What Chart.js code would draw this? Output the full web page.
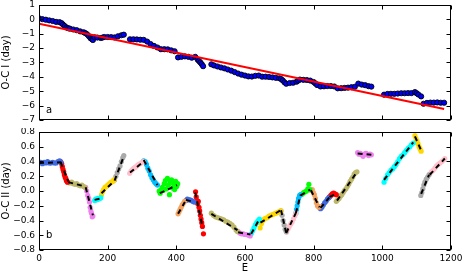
<!DOCTYPE html>
<html>
<head>
<meta charset="utf-8">
<script src="https://cdn.jsdelivr.net/npm/chart.js@4.4.1/dist/chart.umd.min.js"></script>
<style>
  html, body { margin:0; padding:0; background:#fff; }
  #wrap { position:relative; width:462px; height:273px; }
  canvas { position:absolute; left:0; }
  #top { top:0; }
  #bot { top:128px; }
</style>
</head>
<body>
<div id="wrap">
  <canvas id="top" width="462" height="126"></canvas>
  <canvas id="bot" width="462" height="145"></canvas>
</div>
<script>
// ---- data ----
const xTicks = [0,200,400,600,800,1000,1200];
const topYTicks = [1,0,-1,-2,-3,-4,-5,-6,-7];
const bottomYTicks = [0.8,0.6,0.4,0.2,0,-0.2,-0.4,-0.6,-0.8];

// linear ephemeris (red line in panel a)
const trendLine = [[0,-0.31],[1180,-6.23]];

// O-C I (panel a)
const ocI = [
  [0,0.07],[10,0.01],[20,-0.03],[30,-0.08],[40,-0.12],[50,-0.18],[60,-0.20],[66,-0.27],
  [70,-0.37],[75,-0.47],[80,-0.57],[85,-0.62],[90,-0.65],[100,-0.71],[110,-0.76],[120,-0.84],
  [130,-0.90],[135,-0.96],[140,-1.04],[145,-1.17],[150,-1.31],[154,-1.38],[157,-1.44],
  [162,-1.25],[170,-1.27],[180,-1.30],[185,-1.27],[190,-1.23],[200,-1.23],[210,-1.24],
  [220,-1.26],[230,-1.18],[240,-1.11],[247,-1.07],
  [265,-1.39],[275,-1.39],[285,-1.40],[295,-1.42],[305,-1.43],[315,-1.55],[325,-1.72],
  [335,-1.85],[345,-1.96],[355,-2.08],[365,-2.08],[375,-2.09],[385,-2.16],[395,-2.22],
  [405,-2.65],[415,-2.61],[425,-2.58],[435,-2.61],[445,-2.67],[455,-2.61],[462,-2.80],
  [466,-2.90],[470,-3.00],[474,-3.12],[478,-3.26],
  [502,-3.13],[510,-3.21],[520,-3.28],[530,-3.35],[540,-3.41],[550,-3.49],[560,-3.57],
  [570,-3.67],[580,-3.77],[590,-3.85],[600,-3.91],[610,-3.97],[620,-3.98],[630,-3.93],
  [640,-3.91],[650,-3.99],[660,-3.99],[670,-4.01],[680,-4.04],[690,-4.07],[700,-4.10],
  [705,-4.15],[710,-4.25],[715,-4.38],[720,-4.48],[730,-4.43],[740,-4.41],[750,-4.34],
  [755,-4.26],[760,-4.19],[770,-4.21],[780,-4.22],[790,-4.26],[800,-4.36],[805,-4.46],
  [810,-4.57],[820,-4.67],[830,-4.66],[840,-4.64],[850,-4.64],[860,-4.67],[870,-4.80],
  [880,-4.79],[890,-4.77],[900,-4.75],[910,-4.72],[920,-4.69],
  [930,-4.47],[940,-4.54],[950,-4.58],[960,-4.65],[968,-4.68],
  [1005,-5.24],[1015,-5.19],[1025,-5.18],[1035,-5.18],[1045,-5.16],[1055,-5.14],
  [1065,-5.14],[1075,-5.13],[1085,-5.13],[1095,-5.06],[1100,-5.14],[1105,-5.23],[1113,-5.36],
  [1120,-5.87],[1130,-5.81],[1140,-5.79],[1150,-5.79],[1160,-5.78],[1170,-5.80],[1180,-5.80]
];

// O-C II (panel b), one list per coloured segment
const ocIISegments = [
  [[0,0.38],[5,0.39],[10,0.37],[15,0.39],[20,0.38],[25,0.40],[30,0.38],[35,0.38],[40,0.39],[45,0.38],[50,0.38],[55,0.40],[60,0.41],[64,0.39]],
  [[63,0.40],[66,0.37],[68,0.33],[70,0.29],[72,0.26],[74,0.22],[76,0.19],[78,0.17],[80,0.14],[83,0.12]],
  [[85,0.12],[90,0.11],[95,0.12],[100,0.10],[105,0.09],[110,0.10],[115,0.08],[120,0.07],[125,0.08],[130,0.06],[134,0.05]],
  [[136,0.05],[139,0.00],[142,-0.06],[145,-0.10],[147,-0.15],[149,-0.22],[151,-0.27],[153,-0.30],[155,-0.35],[157,-0.34]],
  [[162,-0.13],[165,-0.11],[168,-0.12],[171,-0.10],[174,-0.11],[177,-0.10],[180,-0.09]],
  [[182,-0.05],[185,-0.01],[188,0.02],[192,0.05],[196,0.06],[200,0.08],[205,0.10],[210,0.12],[215,0.13],[218,0.15]],
  [[220,0.15],[224,0.20],[228,0.25],[232,0.30],[236,0.34],[240,0.40],[244,0.45],[247,0.48]],
  [[264,0.24],[268,0.27],[272,0.29],[276,0.31],[280,0.32],[285,0.34],[290,0.36],[295,0.37],[300,0.39],[304,0.40]],
  [[305,0.41],[309,0.40],[313,0.36],[317,0.31],[321,0.27],[325,0.22],[329,0.18],[333,0.15],[337,0.12],[341,0.10],[345,0.08]],
  [[350,0.00],[353,-0.03],[356,0.02],[359,0.05],[362,0.01],[365,0.10],[368,0.14],[371,0.03],[374,0.17],[377,0.08],[380,-0.05],[383,0.12],[386,0.15],[389,0.04],[392,0.10],[395,0.02],[398,0.13],[401,0.06],[404,0.10]],
  [[405,-0.31],[408,-0.28],[411,-0.25],[414,-0.22],[417,-0.19],[420,-0.17],[424,-0.14]],
  [[428,-0.13],[432,-0.11],[436,-0.12],[440,-0.12],[444,-0.13],[448,-0.14],[452,-0.15]],
  [[456,-0.01],[458,-0.08],[460,-0.13],[462,-0.17],[464,-0.14],[466,-0.22],[468,-0.27],[470,-0.33],[472,-0.38],[474,-0.43],[476,-0.48],[479,-0.58]],
  [[502,-0.30],[508,-0.33],[514,-0.35],[520,-0.36],[526,-0.37],[532,-0.38],[538,-0.39],[544,-0.41],[550,-0.42],[556,-0.44],[562,-0.46],[568,-0.49],[574,-0.53],[578,-0.55]],
  [[580,-0.55],[585,-0.57],[590,-0.58],[595,-0.58],[600,-0.59],[605,-0.59],[610,-0.60],[615,-0.61]],
  [[618,-0.58],[622,-0.54],[626,-0.50],[630,-0.46],[634,-0.43],[638,-0.40],[642,-0.38]],
  [[644,-0.50],[648,-0.44],[652,-0.40],[656,-0.38],[660,-0.37],[665,-0.36],[670,-0.34],[675,-0.33],[680,-0.32],[685,-0.31],[690,-0.30],[695,-0.29],[700,-0.28],[704,-0.27]],
  [[705,-0.27],[708,-0.33],[711,-0.40],[714,-0.46],[717,-0.52],[720,-0.55]],
  [[721,-0.56],[725,-0.52],[729,-0.48],[733,-0.45],[737,-0.42],[741,-0.38],[745,-0.34],[748,-0.30]],
  [[748,-0.30],[750,-0.25],[752,-0.20],[754,-0.15],[756,-0.10],[759,-0.06],[762,-0.05]],
  [[763,-0.05],[767,-0.04],[771,-0.02],[775,-0.01],[779,0.00],[783,0.03],[786,0.09],[789,0.02]],
  [[792,0.01],[796,0.02],[799,-0.02],[802,-0.05],[805,-0.10],[808,-0.16],[811,-0.20],[815,-0.22],[818,-0.21]],
  [[820,-0.24],[824,-0.22],[828,-0.19],[832,-0.16],[836,-0.14],[840,-0.11],[844,-0.09]],
  [[846,-0.08],[850,-0.06],[854,-0.04],[858,-0.03],[862,-0.04],[866,-0.05]],
  [[866,-0.14],[870,-0.12],[874,-0.10],[878,-0.07],[882,-0.05],[886,-0.02],[890,0.01],[894,0.03],[898,0.06],[902,0.09],[906,0.13],[910,0.16],[914,0.19],[918,0.23],[922,0.25],[926,0.26]],
  [[928,0.52],[932,0.50],[936,0.51],[940,0.49],[944,0.47],[948,0.50],[952,0.51],[956,0.50],[960,0.48],[964,0.50],[968,0.49]],
  [[1005,0.12],[1010,0.17],[1015,0.22],[1020,0.25],[1025,0.28],[1030,0.30],[1035,0.33],[1040,0.36],[1045,0.40],[1050,0.44],[1055,0.47],[1060,0.49],[1065,0.52],[1070,0.55],[1075,0.58],[1080,0.60],[1085,0.63],[1090,0.65]],
  [[1095,0.75],[1098,0.71],[1101,0.68],[1104,0.64],[1107,0.60],[1110,0.57],[1113,0.54]],
  [[1112,-0.06],[1115,-0.02],[1118,0.03],[1121,0.08],[1124,0.12],[1128,0.16],[1132,0.19],[1136,0.22]],
  [[1138,0.23],[1143,0.26],[1148,0.28],[1153,0.31],[1158,0.34],[1163,0.36],[1168,0.38],[1173,0.40],[1178,0.42],[1182,0.44]]
];

// linear fits through each segment: [E1, v1, E2, v2]
const ocIIFits = [
  [0,0.38,65,0.39],[63,0.39,85,0.13],[85,0.12,135,0.06],[136,0.05,157,-0.33],
  [162,-0.12,180,-0.10],[182,-0.03,218,0.13],[220,0.14,247,0.47],[265,0.25,305,0.40],
  [305,0.42,345,0.08],[352,-0.03,402,0.08],[405,-0.31,425,-0.15],[428,-0.12,452,-0.15],
  [455,-0.02,477,-0.50],[502,-0.31,578,-0.53],[580,-0.56,616,-0.59],[618,-0.58,642,-0.38],
  [645,-0.43,704,-0.26],[705,-0.26,720,-0.57],[720,-0.57,748,-0.30],[748,-0.30,762,-0.05],
  [762,-0.06,790,0.02],[792,0.01,817,-0.22],[820,-0.23,845,-0.09],[846,-0.08,866,-0.04],
  [868,-0.13,925,0.25],[928,0.51,968,0.49],[1005,0.15,1090,0.66],[1095,0.74,1113,0.55],
  [1113,-0.04,1136,0.22],[1138,0.22,1182,0.44]
];

// colour cycle of the segments
const segColors = ['#4169e1','#ff0000','#bdb76b','#ee82ee','#00ffff','#ffd700',
                   '#a9a9a9','#ffc0cb','#00bfff','#00ff00','#f4a460'];

Chart.defaults.font.family = "'DejaVu Sans', sans-serif";
Chart.defaults.font.size = 9;
Chart.defaults.color = '#000';

const minus = s => String(s).replace('-', '\u2212');
const toXY = arr => arr.map(p => ({x:p[0], y:p[1]}));

// frame + inward ticks on all four sides, plus the panel letter
const framePlugin = {
  id: 'frame',
  afterDraw(chart, args, opts){
    const {ctx, chartArea:a} = chart;
    const xs = chart.scales.x, ys = chart.scales.y;
    ctx.save();
    ctx.strokeStyle = '#000';
    ctx.lineWidth = 1;
    const L = Math.round(a.left)+0.5, R = Math.round(a.right)-0.5;
    const T = Math.round(a.top)+0.5, B = Math.round(a.bottom)-0.5;
    ctx.beginPath();
    xs.ticks.forEach(t=>{
      const p = Math.round(xs.getPixelForValue(t.value))+0.5;
      ctx.moveTo(p,T); ctx.lineTo(p,T+4);
      ctx.moveTo(p,B); ctx.lineTo(p,B-4);
    });
    ys.ticks.forEach(t=>{
      const p = Math.round(ys.getPixelForValue(t.value))+0.5;
      ctx.moveTo(L,p); ctx.lineTo(L+4,p);
      ctx.moveTo(R,p); ctx.lineTo(R-4,p);
    });
    ctx.stroke();
    ctx.strokeRect(L, T, R-L, B-T);
    ctx.fillStyle = '#000';
    ctx.font = "10px 'DejaVu Sans', sans-serif";
    ctx.textBaseline = 'alphabetic';
    ctx.fillText(opts.letter, a.left+7, a.bottom-opts.dy);
    ctx.restore();
  }
};

function yScale(ticks, title, fmt){
  return {
    type:'linear', min: ticks[ticks.length-1], max: ticks[0],
    afterBuildTicks: s => { s.ticks = ticks.map(v=>({value:v})); },
    afterFit: s => { s.width = 39; s.paddingTop = 0; s.paddingBottom = 0; },
    grid:{ display:false, drawTicks:false },
    border:{ display:false },
    ticks:{ padding:4, callback: fmt },
    title:{ display:true, text:title, font:{size:10}, padding:{top:0,bottom:2} }
  };
}

function xScale(showLabels, h){
  return {
    type:'linear', min:0, max:1200,
    afterBuildTicks: s => { s.ticks = xTicks.map(v=>({value:v})); },
    afterFit: s => { s.height = h; s.paddingLeft = 0; s.paddingRight = 0; },
    grid:{ display:false, drawTicks:false },
    border:{ display:false },
    ticks:{ display:showLabels, padding:3, maxRotation:0, callback: v => String(v) },
    title:{ display:showLabels, text:'E', font:{size:10}, padding:{top:0,bottom:-1} }
  };
}

const common = {
  responsive:false, animation:false, devicePixelRatio:1,
  layout:{ padding:{ left:0, right:11, top:4, bottom:0 } },
  plugins:{ legend:{display:false}, tooltip:{enabled:false} }
};

// panel a
new Chart(document.getElementById('top'), {
  type:'scatter',
  data:{ datasets:[
    { data: toXY(trendLine), showLine:true, borderColor:'#ff0000', borderWidth:2,
      pointRadius:0, order:0 },
    { data: toXY(ocI), backgroundColor:'#0000ff', borderColor:'#000', borderWidth:0.9,
      pointRadius:2.6, order:1 }
  ]},
  options:{ ...common,
    plugins:{ ...common.plugins, frame:{ letter:'a', dy:7 } },
    scales:{
      x: xScale(false, 6),
      y: yScale(topYTicks, 'O-C I (day)', v => minus(v))
    }
  },
  plugins:[framePlugin]
});

// panel b
const botSets = [];
ocIISegments.forEach((seg,i)=>{
  botSets.push({ data: toXY(seg), backgroundColor: segColors[i % segColors.length],
    borderWidth:0, pointRadius:2.6, order:2 });
});
ocIIFits.forEach(f=>{
  botSets.push({ data:[{x:f[0],y:f[1]},{x:f[2],y:f[3]}], showLine:true,
    borderColor:'#000', borderWidth:2, borderDash:[5,4], pointRadius:0, order:0 });
});

new Chart(document.getElementById('bot'), {
  type:'scatter',
  data:{ datasets: botSets },
  options:{ ...common,
    plugins:{ ...common.plugins, frame:{ letter:'b', dy:12 } },
    scales:{
      x: xScale(true, 23),
      y: yScale(bottomYTicks, 'O-C II (day)',
        v => Math.abs(v) < 1e-9 ? '0.0' : minus(Number(v).toFixed(1)))
    }
  },
  plugins:[framePlugin]
});
</script>
</body>
</html>
